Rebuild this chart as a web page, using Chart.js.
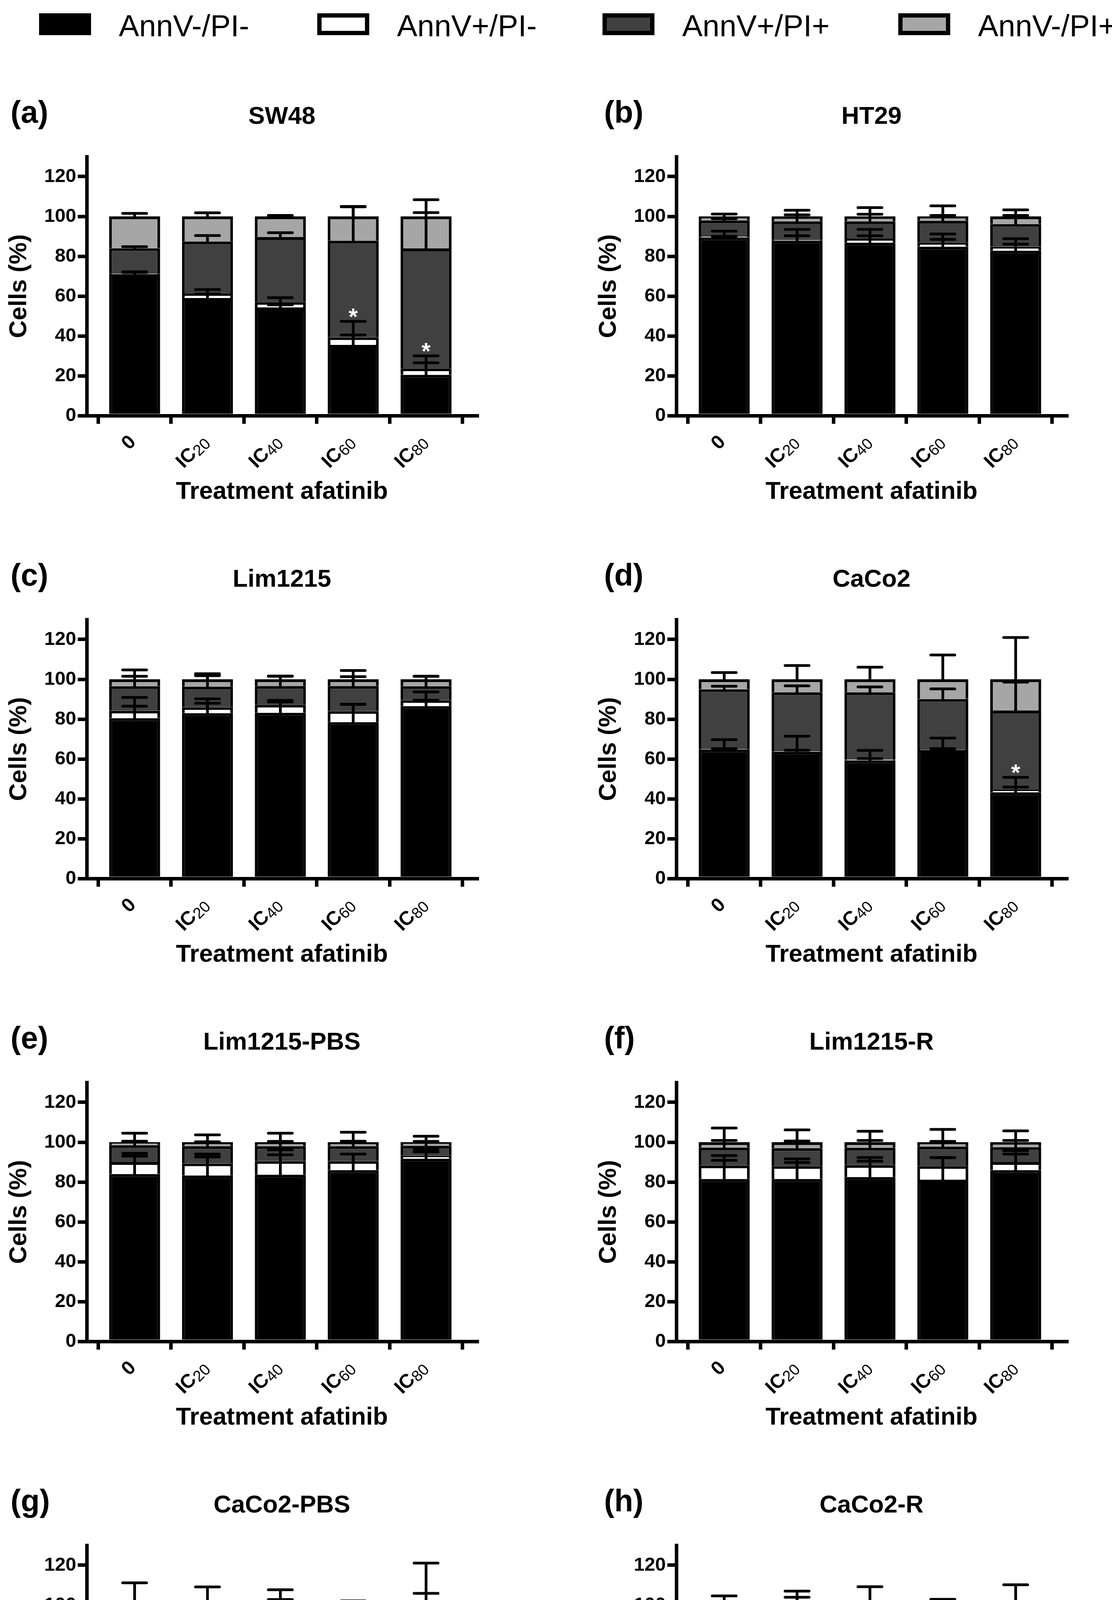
<!DOCTYPE html>
<html>
<head>
<meta charset="utf-8">
<title>Apoptosis after afatinib treatment</title>
<script src="https://cdn.jsdelivr.net/npm/chart.js@4.4.1/dist/chart.umd.min.js"></script>
<style>
  html, body { margin: 0; padding: 0; background: #fff; }
  #page { position: relative; width: 2846px; height: 4870px; overflow: hidden; font-family: "Liberation Sans", Arial, sans-serif; }
  canvas { position: absolute; }
  .legend-box { position: absolute; top: 34px; width: 133px; height: 56px; box-sizing: border-box; border: 11px solid #000; }
  .legend-text { position: absolute; top: 27px; font-size: 78px; line-height: 1; color: #000; white-space: nowrap; }
</style>
</head>
<body>
<div id="page"></div>
<script>
const FONT = '"Liberation Sans", Arial, sans-serif';

// shared axes / series
const categories = ['0', 'IC20', 'IC40', 'IC60', 'IC80'];
const yTicks = [0, 20, 40, 60, 80, 100, 120];
const seriesLabels = ['AnnV-/PI-', 'AnnV+/PI-', 'AnnV+/PI+', 'AnnV-/PI+'];
const seriesColors = ['#000000', '#ffffff', '#404040', '#a6a6a6'];
const panelLetters = ['(a)', '(b)', '(c)', '(d)', '(e)', '(f)', '(g)', '(h)'];
const panelTitles = ['SW48', 'HT29', 'Lim1215', 'CaCo2', 'Lim1215-PBS', 'Lim1215-R', 'CaCo2-PBS', 'CaCo2-R'];

// rows follow seriesLabels: AnnV-/PI-, AnnV+/PI-, AnnV+/PI+, AnnV-/PI+
const sw48Mean = [[71, 59, 54.3, 35.5, 20.5], [0.3, 2.2, 2.7, 3.8, 3.2], [12.7, 26.2, 32.6, 48.5, 60.2], [16, 12.6, 10.4, 12.2, 16.1]];
const sw48Sd = [[0.8, 2, 1.3, 5, 6], [0.9, 2.1, 2.2, 8, 6.3], [0.8, 3, 2.2, 17, 18], [1.5, 1.8, 0.5, 5, 8.4]];
const sw48Sig = [0, 0, 0, 1, 1];

const ht29Mean = [[89.5, 87.8, 86.8, 84.8, 82.8], [0.7, 0.5, 2, 2, 2], [7.8, 9.2, 8.7, 11, 11.4], [2, 2.5, 2.5, 2.2, 3.8]];
const ht29Sd = [[0.5, 2.5, 3.5, 3.7, 3.3], [2.4, 5.2, 4.7, 4.4, 4], [0.8, 3.3, 3.6, 2.7, 4.3], [1.2, 3.1, 4.4, 5.3, 3.3]];
const ht29Sig = [0, 0, 0, 0, 0];

const lim1215Mean = [[80.5, 83, 83.2, 78.5, 86.5], [3.7, 3, 4, 5.5, 3], [12.3, 10.3, 9.4, 12.6, 7], [3.5, 3.7, 3.4, 3.4, 3.5]];
const lim1215Sd = [[6, 5, 5.5, 9, 3], [6.7, 4.2, 2.2, 3.4, 4.2], [5, 5.5, 4.9, 4.7, 5], [4.7, 2.8, 1.6, 4.4, 1.5]];
const lim1215Sig = [0, 0, 0, 0, 0];

const caco2Mean = [[64.8, 63.7, 59.3, 64.5, 43.3], [0.3, 0.4, 0.4, 0.4, 1.2], [29.9, 29.4, 33.8, 25.2, 39.8], [5, 6.5, 6.5, 9.9, 15.7]];
const caco2Sd = [[0.4, 0.7, 0.9, 0.7, 2.6], [4.6, 7.3, 4.6, 5.6, 6.3], [1.5, 3.2, 2.7, 5.1, 14.3], [3.4, 6.9, 6.1, 12.2, 21]];
const caco2Sig = [0, 0, 0, 0, 1];

const limPbsMean = [[84, 83.3, 83.7, 86, 91.7], [6, 6, 6.8, 4.5, 1.5], [8.5, 8.7, 7.5, 7.5, 5], [1.5, 2, 2, 2, 1.8]];
const limPbsSd = [[9, 9.3, 10, 8, 3.4], [4.4, 4.7, 5.7, 3.5, 3], [2, 2.2, 2.4, 2.5, 2.2], [4.5, 3.7, 4.5, 5, 3]];
const limPbsSig = [0, 0, 0, 0, 0];

const limRMean = [[81.5, 81.5, 82.5, 81.2, 86], [6.8, 6.5, 6, 6.8, 4], [9, 9, 8.7, 9.8, 7.5], [2.7, 3, 2.8, 2.2, 2.5]];
const limRSd = [[9.4, 8.3, 8, 11, 8], [5, 3.6, 3.8, 4.3, 5.8], [3.6, 3.6, 3.7, 2.6, 3.4], [7.1, 6.2, 5.5, 6.4, 5.7]];
const limRSig = [0, 0, 0, 0, 0];

const cacoPbsMean = [[70.3, 65, 67.3, 66.4, 45.2], [0.3, 0.6, 0.4, 0.3, 0.4], [19.6, 26.4, 26, 29, 38], [9.8, 8, 6.3, 4.3, 16.4]];
const cacoPbsSd = [[0.5, 2.8, 1.7, 1.6, 0.8], [0.4, 5.3, 4, 2.5, 2.6], [11.6, 5.6, 9.1, 4.4, 22.3], [11.2, 9.1, 7.7, 2.1, 21.1]];
const cacoPbsSig = [0, 0, 0, 0, 1];

const cacoRMean = [[73.3, 66.2, 65, 67.8, 64.8], [0.6, 0.3, 0.6, 0.3, 0.4], [22, 29, 26, 27.7, 24.5], [4.1, 4.5, 8.4, 4.2, 10.3]];
const cacoRSd = [[2.9, 2.5, 3, 1.9, 1], [7.6, 6.2, 3.6, 2.8, 3.8], [1, 8.4, 8.4, 5.7, 5.8], [4.6, 7, 9.2, 2.9, 10.2]];
const cacoRSig = [0, 0, 0, 0, 0];

const panelMeans = [sw48Mean, ht29Mean, lim1215Mean, caco2Mean, limPbsMean, limRMean, cacoPbsMean, cacoRMean];
const panelSds = [sw48Sd, ht29Sd, lim1215Sd, caco2Sd, limPbsSd, limRSd, cacoPbsSd, cacoRSd];
const panelSigs = [sw48Sig, ht29Sig, lim1215Sig, caco2Sig, limPbsSig, limRSig, cacoPbsSig, cacoRSig];

// layout
const PANEL_W = 1300;
const PANEL_H = 1110;
const COL_STEP = 1509;
const ROW_TOP = 200;
const ROW_STEP = 1185;
const AREA_TOP = 201;
const AREA_BOTTOM = 864;
const AREA_LEFT = 222;
const AREA_RIGHT = 1221;

const page = document.getElementById('page');

// legend (HTML, top of page)
const legendLeft = [100, 812, 1542, 2299];
seriesLabels.forEach((label, k) => {
  const box = document.createElement('div');
  box.className = 'legend-box';
  box.style.left = legendLeft[k] + 'px';
  box.style.background = seriesColors[k];
  page.appendChild(box);
  const text = document.createElement('div');
  text.className = 'legend-text';
  text.style.left = (legendLeft[k] + 204) + 'px';
  text.textContent = label;
  page.appendChild(text);
});

// error bars (upper SD only) and significance stars
function errorBars(mean, sd, sig) {
  return {
    id: 'errorBars',
    afterDatasetsDraw(chart) {
      const { ctx } = chart;
      const y = chart.scales.y;
      ctx.save();
      ctx.strokeStyle = '#000';
      ctx.lineWidth = 7;
      ctx.lineCap = 'round';
      mean.forEach((series, k) => {
        chart.getDatasetMeta(k).data.forEach((bar, i) => {
          let top = 0;
          for (let s = 0; s <= k; s++) top += mean[s][i];
          const capY = y.getPixelForValue(top + sd[k][i]);
          const half = bar.width * 0.235;
          ctx.beginPath();
          ctx.moveTo(bar.x, bar.y);
          ctx.lineTo(bar.x, capY);
          ctx.moveTo(bar.x - half, capY);
          ctx.lineTo(bar.x + half, capY);
          ctx.stroke();
        });
      });
      ctx.fillStyle = '#fff';
      ctx.font = `bold 60px ${FONT}`;
      ctx.textAlign = 'center';
      ctx.textBaseline = 'alphabetic';
      sig.forEach((s, i) => {
        if (!s) return;
        const bar = chart.getDatasetMeta(1).data[i];
        const capY = y.getPixelForValue(mean[0][i] + mean[1][i] + sd[1][i]);
        ctx.fillText('*', bar.x, capY + 8);
      });
      ctx.restore();
    }
  };
}

// panel letter, title and rotated x labels with subscripts
function panelText(letter, title, col) {
  return {
    id: 'panelText',
    afterDraw(chart) {
      const { ctx, chartArea } = chart;
      const x = chart.scales.x;
      ctx.save();
      ctx.fillStyle = '#000';
      ctx.textBaseline = 'alphabetic';
      ctx.textAlign = 'left';
      ctx.font = `bold 79px ${FONT}`;
      ctx.fillText(letter, col === 0 ? 27 : 37, 114);
      ctx.textAlign = 'center';
      ctx.font = `bold 63px ${FONT}`;
      ctx.fillText(title, (chartArea.left + chartArea.right) / 2, 117);

      categories.forEach((cat, i) => {
        const m = /^(\D+)(\d+)$/.exec(cat);
        const main = m ? m[1] : cat;
        const sub = m ? m[2] : '';
        ctx.save();
        ctx.translate(x.getPixelForValue(i) - 4, chartArea.bottom + 60);
        ctx.rotate(-Math.PI / 4);
        ctx.textBaseline = 'middle';
        ctx.textAlign = 'left';
        ctx.font = `40px ${FONT}`;
        const wSub = sub ? ctx.measureText(sub).width : 0;
        ctx.font = `bold 50px ${FONT}`;
        const wMain = ctx.measureText(main).width;
        ctx.fillText(main, -(wMain + wSub), 0);
        if (sub) {
          ctx.font = `40px ${FONT}`;
          ctx.fillText(sub, -wSub, 9);
        }
        ctx.restore();
      });
      ctx.restore();
    }
  };
}

const axisFont = { family: FONT, size: 49, weight: 'bold' };
const titleFont = { family: FONT, size: 63, weight: 'bold' };

panelTitles.forEach((title, n) => {
  const col = n % 2;
  const row = Math.floor(n / 2);
  const mean = panelMeans[n];
  const sd = panelSds[n];
  const sig = panelSigs[n];

  const canvas = document.createElement('canvas');
  canvas.width = PANEL_W;
  canvas.height = PANEL_H;
  canvas.style.width = PANEL_W + 'px';
  canvas.style.height = PANEL_H + 'px';
  canvas.style.left = (col * COL_STEP) + 'px';
  canvas.style.top = (ROW_TOP + row * ROW_STEP) + 'px';
  page.appendChild(canvas);

  new Chart(canvas, {
    type: 'bar',
    data: {
      datasets: seriesLabels.map((label, k) => ({
        label: label,
        data: mean[k].map((v, i) => ({ x: i, y: v })),
        backgroundColor: seriesColors[k],
        borderColor: '#000',
        borderWidth: 7,
        borderSkipped: 'start',
        categoryPercentage: 1,
        barPercentage: 0.7
      }))
    },
    options: {
      responsive: false,
      animation: false,
      devicePixelRatio: 1,
      events: [],
      layout: { padding: { left: 0, top: AREA_TOP, right: PANEL_W - AREA_RIGHT, bottom: 0 } },
      plugins: {
        legend: { display: false },
        tooltip: { enabled: false }
      },
      scales: {
        x: {
          type: 'linear',
          stacked: true,
          min: -0.657,
          max: 4.70,
          offset: false,
          afterBuildTicks: s => { s.ticks = categories.map((c, i) => ({ value: i })); },
          afterFit: s => { s.height = PANEL_H - AREA_BOTTOM; },
          ticks: { display: false },
          grid: { drawOnChartArea: false, drawTicks: true, tickLength: 21, tickWidth: 9, tickColor: '#000', color: '#000', lineWidth: 9 },
          border: { display: true, color: '#000', width: 9 },
          title: { display: true, text: 'Treatment afatinib', color: '#000', font: titleFont, padding: { top: 0, bottom: 13 } }
        },
        y: {
          stacked: true,
          min: 0,
          max: 130,
          afterBuildTicks: s => { s.ticks = yTicks.map(v => ({ value: v })); },
          afterFit: s => { s.width = AREA_LEFT; },
          ticks: { color: '#000', padding: 4, font: axisFont },
          grid: { drawOnChartArea: false, drawTicks: true, tickLength: 23, tickWidth: 9, tickColor: '#000', color: '#000', lineWidth: 9 },
          border: { display: true, color: '#000', width: 9 },
          title: { display: true, text: 'Cells (%)', color: '#000', font: titleFont, padding: { top: 12, bottom: 0 } }
        }
      }
    },
    plugins: [errorBars(mean, sd, sig), panelText(panelLetters[n], title, col)]
  });
});
</script>
</body>
</html>
